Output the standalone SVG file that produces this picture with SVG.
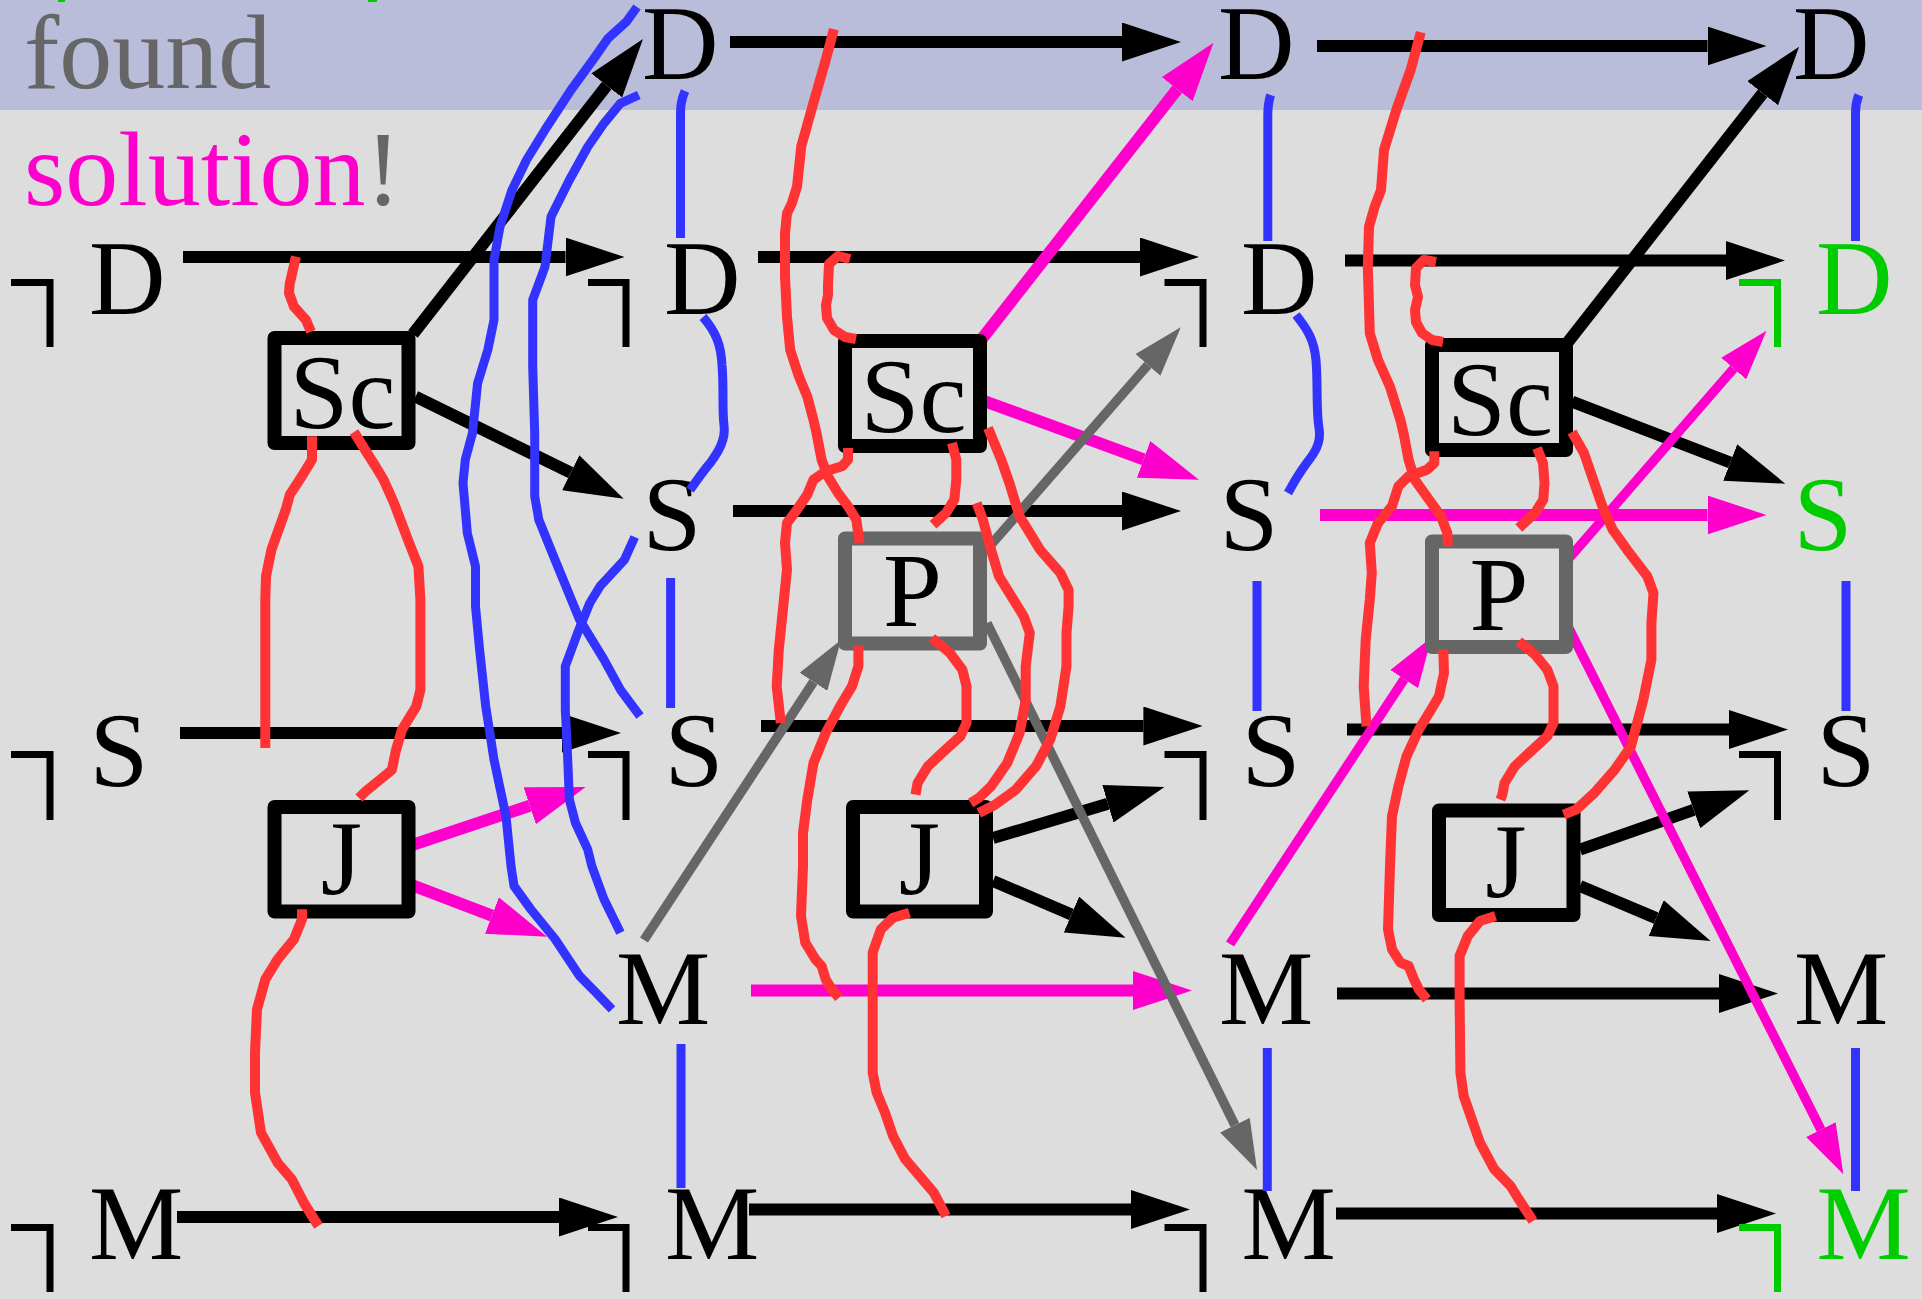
<svg xmlns="http://www.w3.org/2000/svg" width="1922" height="1299" viewBox="0 0 1922 1299">
<style>
.t{font-family:"Liberation Serif","Times New Roman",serif;font-size:106px}
.k{fill:#000}.g{fill:#00cc00}.m{fill:#ff00cc}.y{fill:#666666}
.neg{fill:none;stroke:#000;stroke-width:7;stroke-linejoin:miter}
.neg.gn{stroke:#00cc00}
.box{fill:none;stroke:#000;stroke-width:14;stroke-linejoin:round}
.box.p{stroke:#666666}
.ab{fill:none;stroke:#000;stroke-width:12;marker-end:url(#mk-b)}
.am{fill:none;stroke:#ff00cc;stroke-width:12;marker-end:url(#mk-m)}
.ag{fill:none;stroke:#666666;stroke-width:9.5;marker-end:url(#mk-g)}
.ams{fill:none;stroke:#ff00cc;stroke-width:9.5;marker-end:url(#mk-ms)}
.bl{fill:none;stroke:#3333ff;stroke-width:9;stroke-linejoin:round}
.rd{fill:none;stroke:#ff3333;stroke-width:10;stroke-linejoin:round}
</style>
<defs>
<marker id="mk-b" viewBox="0 0 59 39" refX="0" refY="19.5" markerWidth="59" markerHeight="39" markerUnits="userSpaceOnUse" orient="auto"><path d="M0,0 L59,19.5 L0,39 z" fill="#000"/></marker>
<marker id="mk-m" viewBox="0 0 59 39" refX="0" refY="19.5" markerWidth="59" markerHeight="39" markerUnits="userSpaceOnUse" orient="auto"><path d="M0,0 L59,19.5 L0,39 z" fill="#ff00cc"/></marker>
<marker id="mk-g" viewBox="0 0 50 33" refX="0" refY="16.5" markerWidth="50" markerHeight="33" markerUnits="userSpaceOnUse" orient="auto"><path d="M0,0 L50,16.5 L0,33 z" fill="#666666"/></marker>
<marker id="mk-ms" viewBox="0 0 50 33" refX="0" refY="16.5" markerWidth="50" markerHeight="33" markerUnits="userSpaceOnUse" orient="auto"><path d="M0,0 L50,16.5 L0,33 z" fill="#ff00cc"/></marker>
</defs>

<g id="background">
<rect x="0" y="0" width="1922" height="1299" fill="#dddddd"/>
<rect x="0" y="0" width="1922" height="110" fill="#b9bdd9"/>
<rect x="58" y="0" width="7" height="2" fill="#00cc00"/>
<rect x="368" y="0" width="9" height="2" fill="#00cc00"/>
</g>

<g id="title">
<text class="t y" x="24" y="88" style="font-size:106px">found</text>
<text class="t" x="24" y="205" style="font-size:106px"><tspan class="m">solution</tspan><tspan class="y">!</tspan></text>
</g>

<g id="connectors">
<path class="ab" d="M730,42 H1122"/>
<path class="ab" d="M1317,46 H1707.5"/>
<path class="ab" d="M183,257 H565.5"/>
<path class="ab" d="M758,257 H1140"/>
<path class="ab" d="M1345,260.5 H1726"/>
<path class="ab" d="M733,511 H1122"/>
<path class="ab" d="M180,733 H562"/>
<path class="ab" d="M761,726 H1143.4"/>
<path class="ab" d="M1347,729.5 H1729"/>
<path class="ab" d="M1337,993.5 H1719"/>
<path class="ab" d="M177,1217 H559"/>
<path class="ab" d="M749,1209.5 H1131"/>
<path class="ab" d="M1336,1213.5 H1717"/>
<path class="ab" d="M413,334 L606.7,85.5"/>
<path class="ab" d="M415.5,396.7 L570.7,472.7"/>
<path class="ab" d="M1568,342 L1762.7,93.2"/>
<path class="ab" d="M1572,401.7 L1730.2,462.5"/>
<path class="ab" d="M993,838 L1107.9,803.8"/>
<path class="ab" d="M993,881 L1071.4,914.5"/>
<path class="ab" d="M1580,849.7 L1693.7,809.8"/>
<path class="ab" d="M1580,886 L1656.2,918.1"/>
<path class="am" d="M1320,515 H1707.5"/>
<path class="am" d="M751,990.5 H1133"/>
<path class="am" d="M981,340 L1177.2,89.2"/>
<path class="am" d="M976.7,398.3 L1143.6,459.4"/>
<path class="am" d="M410,845.7 L529.7,805.7"/>
<path class="am" d="M410,884.3 L491.9,915.6"/>
<path class="ams" d="M1230,944 L1404.2,679.1"/>
<path class="ams" d="M1567.8,559.7 L1733.7,368.5"/>
<path class="ams" d="M1563.7,618 L1820.9,1129.6"/>
<path class="ag" d="M991,544.7 L1147.9,365"/>
<path class="ag" d="M644,940 L813.5,681.8"/>
<path class="ag" d="M987,623 L1234.9,1125.2"/>
</g>

<g id="nodes">
<g id="D-r1-c1"><text class="t k" x="642" y="79">D</text></g>
<g id="D-r1-c2"><text class="t k" x="1218" y="79">D</text></g>
<g id="D-r1-c3"><text class="t k" x="1793" y="79">D</text></g>

<g id="nD-r2-c0"><path class="neg" d="M11,282.5 H50 V347"/><text class="t k" x="89" y="314">D</text></g>
<g id="nD-r2-c1"><path class="neg" d="M588,282.5 H626 V347"/><text class="t k" x="664" y="314">D</text></g>
<g id="nD-r2-c2"><path class="neg" d="M1164.5,282.5 H1203 V347"/><text class="t k" x="1241" y="314">D</text></g>
<g id="nD-r2-c3"><path class="neg gn" d="M1739,282.5 H1777.5 V347"/><text class="t g" x="1816" y="314">D</text></g>

<g id="S-r3-c1"><text class="t k" x="642.5" y="550">S</text></g>
<g id="S-r3-c2"><text class="t k" x="1219.5" y="550">S</text></g>
<g id="S-r3-c3"><text class="t g" x="1793.5" y="550">S</text></g>

<g id="nS-r4-c0"><path class="neg" d="M11,754.5 H50 V820"/><text class="t k" x="89.5" y="786">S</text></g>
<g id="nS-r4-c1"><path class="neg" d="M588,754.5 H626 V820"/><text class="t k" x="664.5" y="786">S</text></g>
<g id="nS-r4-c2"><path class="neg" d="M1164.5,754.5 H1203 V820"/><text class="t k" x="1241.5" y="786">S</text></g>
<g id="nS-r4-c3"><path class="neg" d="M1739,754.5 H1777.5 V820"/><text class="t k" x="1816.5" y="786">S</text></g>

<g id="M-r5-c1"><text class="t k" x="616" y="1024">M</text></g>
<g id="M-r5-c2"><text class="t k" x="1219" y="1024">M</text></g>
<g id="M-r5-c3"><text class="t k" x="1794" y="1024">M</text></g>

<g id="nM-r6-c0"><path class="neg" d="M11,1227.5 H50 V1292"/><text class="t k" x="89" y="1259">M</text></g>
<g id="nM-r6-c1"><path class="neg" d="M588,1227.5 H626 V1292"/><text class="t k" x="665" y="1259">M</text></g>
<g id="nM-r6-c2"><path class="neg" d="M1164.5,1227.5 H1203 V1292"/><text class="t k" x="1241.5" y="1259">M</text></g>
<g id="nM-r6-c3"><path class="neg gn" d="M1739,1227.5 H1777.5 V1292"/><text class="t g" x="1816.5" y="1259">M</text></g>

<g id="Sc-0"><rect class="box" x="274.5" y="338" width="134" height="105"/><text class="t k" x="342.5" y="428" text-anchor="middle">Sc</text></g>
<g id="Sc-1"><rect class="box" x="845" y="341" width="135" height="105"/><text class="t k" x="913.5" y="432" text-anchor="middle">Sc</text></g>
<g id="Sc-2"><rect class="box" x="1432" y="345" width="134" height="105"/><text class="t k" x="1500" y="435" text-anchor="middle">Sc</text></g>
<g id="P-1"><rect class="box p" x="845" y="538.5" width="135" height="105"/><text class="t k" x="912.5" y="626" text-anchor="middle">P</text></g>
<g id="P-2"><rect class="box p" x="1432" y="541.5" width="134" height="105.5"/><text class="t k" x="1499" y="629.5" text-anchor="middle">P</text></g>
<g id="J-0"><rect class="box" x="274.5" y="807" width="134" height="104.5"/><text class="t k" x="341.5" y="894" text-anchor="middle">J</text></g>
<g id="J-1"><rect class="box" x="853" y="807" width="133" height="104.5"/><text class="t k" x="919.5" y="894" text-anchor="middle">J</text></g>
<g id="J-2"><rect class="box" x="1439" y="810.5" width="134.5" height="104.5"/><text class="t k" x="1506" y="897" text-anchor="middle">J</text></g>
</g>

<g id="wires">
<g id="blue">
<path class="bl" d="M685,91 C681,100 680.5,106 680.5,118 L680.5,238"/>
<path class="bl" d="M1270.6,95 C1268,103 1267.8,108 1267.8,116 L1267.8,241"/>
<path class="bl" d="M1858.8,95 C1856,102 1855.5,106 1855.5,113 L1855.5,241"/>
<path class="bl" d="M703,317 C716,332 721,345 722,365 C724,390 722,410 724,425 C726,440 718,452 711,462 C704,470 697,480 690,490"/>
<path class="bl" d="M1296,315 C1308,330 1314,340 1316,360 C1318,385 1316,410 1319,428 C1322,445 1312,456 1306,464 C1300,472 1294,482 1288,493"/>
<path class="bl" d="M670.6,578 V708"/>
<path class="bl" d="M1257,581 V711"/>
<path class="bl" d="M1846,581 V711"/>
<path class="bl" d="M681,1044 V1188"/>
<path class="bl" d="M1267.3,1048 V1191"/>
<path class="bl" d="M1855.5,1048 V1191"/>
<path class="bl" d="M637,7 L626.5,21.7 L608,38.3 L594,58.3 L571,90 L547,126.7 L526.5,160 L512,190 L500,226.7 L494,260 L494,320 L487.8,350 L477.6,383.3 L472.5,433 L465.3,459.7 L463,483 L467.3,533 L475.5,566.3 L475.5,606.3 L479.6,649.7 L485.7,706.3 L494,759.7 L506,816.3 L511,866 L514,886 L530.6,909 L555,939 L579.6,976 L596,992.7 L612,1009.3"/>
<path class="bl" d="M638.8,95 L620.4,103.3 L604,123.3 L587.8,146.7 L569.4,180 L551,216.7 L545,266.7 L532.7,300 L532.7,366.7 L534.7,433 L534.7,496.3 L538.8,519.7 L555,559.7 L579.6,619.7 L604,659.7 L620.4,689.7 L640,716"/>
<path class="bl" d="M634.7,537 L624.5,559.7 L600,586.3 L589.8,603 L577.6,633 L565.3,666.3 L565.3,709.7 L567.3,749.7 L569.4,799.7 L575.5,823 L587.8,849.7 L591.8,866 L604,899.3 L620.4,932.7"/>
</g>
<g id="red">
<path class="rd" d="M296,256.7 L289.8,283.3 L289,293 L294,306.7 L306,320 L311,331.7"/>
<path class="rd" d="M312,436.3 L312,459.7 L302,476 L289.8,494.7 L285.7,509.7 L271.4,549.7 L266,576.3 L265.3,600 L265.3,748"/>
<path class="rd" d="M354,432 L367,453 L375.5,466.3 L383.7,480 L394,503 L408,540 L418.4,566.3 L420.4,600 L420.4,690 L416.3,706.3 L402,729.7 L396,750 L391.8,770 L379.6,780 L365.3,791.7 L359,798"/>
<path class="rd" d="M302,909.3 L302,919.3 L293.9,939.3 L277.6,959.3 L265.3,979.3 L257,1009.3 L255,1052.7 L255,1092.7 L261,1132.7 L277.6,1162.7 L291.8,1179.3 L304,1203 L318.4,1226"/>
<path class="rd" d="M833.9,29.3 L825.7,60 L811.4,110 L801.2,146.7 L797,186.7 L791.8,203.3 L787,213.3 L785,233.3 L785,276.7 L787,316.7 L790.2,350 L799,376.7 L807.3,396.7 L813.5,420 L816.5,433 L821.6,459.7 L827.8,476.3 L838,493 L848,506.3 L856.3,519.7 L859.6,543"/>
<path class="rd" d="M850,259 L838,256 L829,264 L828,285 L828,295 L826,305 L827,318 L834,330 L845,337 L856,339"/>
<path class="rd" d="M848,448 L848,459.7 L842,466.3 L825.7,471.3 L813.5,479.7 L807.3,494.7 L797,509.7 L787,523 L785,543 L787,569.7 L782.9,609.7 L778.8,649.7 L776.7,686.3 L780.8,723"/>
<path class="rd" d="M952,443 L956.3,459.7 L956.3,479.7 L954.3,499.7 L946,513 L933,524.7"/>
<path class="rd" d="M858.4,645.7 L858.4,666.3 L852,686.3 L840,706.3 L825.7,733 L813.5,763 L807.3,799.7 L803,833 L803,866 L801,916 L805.3,942.7 L815.5,959.3 L821.6,966 L825.7,979.3 L831.8,989.3 L839,997.7"/>
<path class="rd" d="M931.8,638 L950,653 L962.4,669.7 L966.5,686.3 L966.5,723 L960.4,736.3 L942,753 L927.8,766.3 L917.6,783 L915.5,794.7"/>
<path class="rd" d="M976.7,503 L982.9,519.7 L991,549.7 L999,576.3 L1011.4,596.3 L1023.7,616.3 L1029.8,633 L1025.7,666.3 L1025.7,700 L1019.6,733 L1007.3,763 L991,786.3 L978.8,798 L970.6,803"/>
<path class="rd" d="M988,428 L1001.2,459.7 L1009.4,483 L1019.6,516.3 L1040,549.7 L1060.4,573 L1068.6,590 L1068.6,606.3 L1066.5,633 L1066.5,666.3 L1060.4,706.3 L1050.2,739.7 L1036,766.3 L1015.5,790 L995,804.7 L978.8,813"/>
<path class="rd" d="M909.4,912.7 L893,917.7 L880.8,929.3 L872.7,952.7 L872.7,979.3 L872.7,1072.7 L876.7,1092.7 L885,1112.7 L893,1136 L905.3,1159.3 L919.6,1176 L933.9,1192.7 L946,1216"/>
<path class="rd" d="M1420.8,32.3 L1410.6,70 L1396.3,110 L1384,150 L1381,190 L1374.7,206.7 L1369,226.7 L1367.8,266.7 L1369.8,333.3 L1378,360 L1390,386.7 L1400.4,420 L1403.5,433 L1408.6,459.7 L1414.7,479.7 L1429,499.7 L1441,516.3 L1447.3,533 L1448,546.3"/>
<path class="rd" d="M1436,262 L1424,260 L1416,268 L1415,285 L1418,297 L1415,310 L1416,322 L1422,333 L1432,340 L1443,342"/>
<path class="rd" d="M1434.3,451.3 L1434.3,463 L1427,469.7 L1408.6,476.3 L1398.4,486.3 L1392,506.3 L1378,523 L1369.8,543 L1371.8,573 L1369.8,599.7 L1365.7,639.7 L1363.7,686.3 L1366.5,726.3"/>
<path class="rd" d="M1537,448 L1543,463 L1544.5,483 L1543.3,499.7 L1535,513 L1518.8,528"/>
<path class="rd" d="M1443.3,649.7 L1444,673 L1439,696.3 L1431,709.7 L1418.8,729.7 L1406.5,756.3 L1398.4,786.3 L1392,816.3 L1390,866 L1388,929.3 L1392,949.3 L1400.4,962.7 L1408.6,966 L1414,979.3 L1418.8,989.3 L1427,999.3"/>
<path class="rd" d="M1518.8,641.3 L1535,654.7 L1547.3,669.7 L1553.5,686.3 L1553.5,723 L1547.3,736.3 L1529,753 L1514.7,766.3 L1504.5,783 L1502.4,794.7 L1500.4,799.7"/>
<path class="rd" d="M1572,432 L1584,453 L1592,476.3 L1602.4,506.3 L1612.7,529.7 L1627,549.7 L1647.3,576.3 L1653.5,593 L1651.4,623 L1651.4,659.7 L1643.3,699.7 L1631,746.3 L1614.7,769.7 L1594.3,793 L1576,809.7 L1563.7,814.7"/>
<path class="rd" d="M1495.5,916 L1480,921 L1467.8,936 L1459.6,956 L1459.6,999.3 L1460.4,1072.7 L1463.7,1096 L1471.8,1119.3 L1480,1142.7 L1494.3,1169.3 L1510.6,1186 L1518.8,1199.3 L1533,1221"/>
</g>
</g>
</svg>
